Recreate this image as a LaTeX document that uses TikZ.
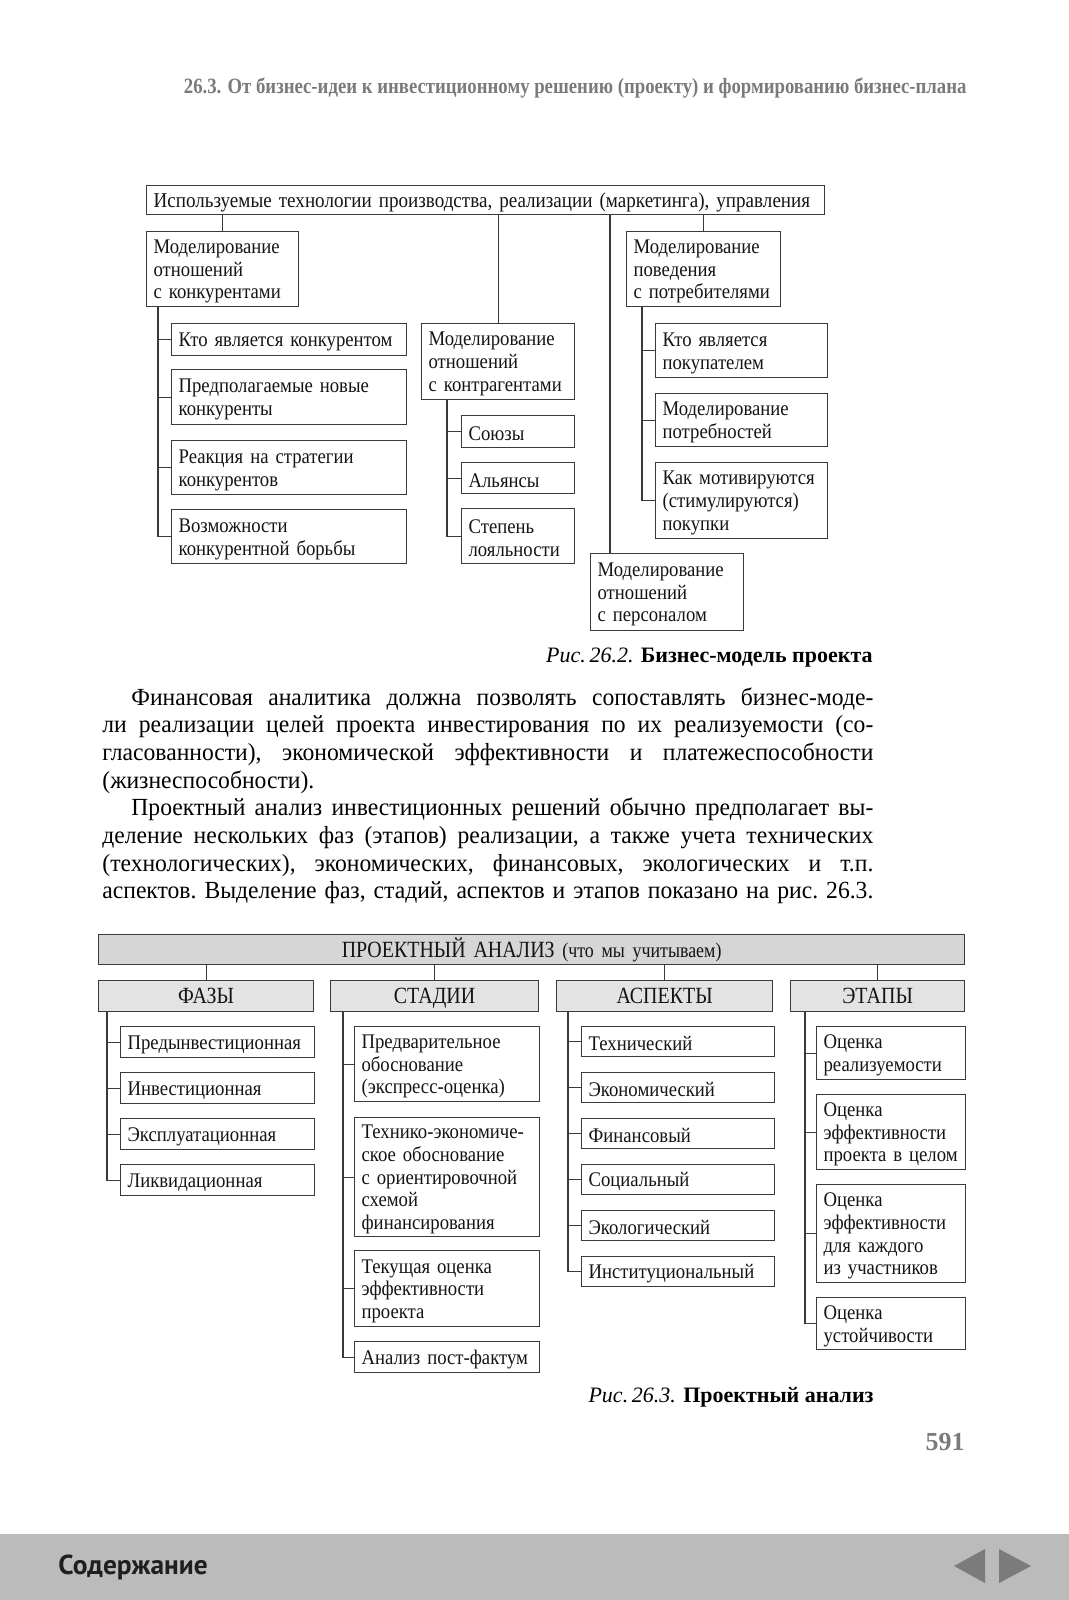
\documentclass[tikz,border=0pt]{standalone}
\usepackage{fontspec}
\usepackage{xcolor}
\usepackage{tikz}
\setmainfont{Liberation Serif}
\newfontfamily\condf{Liberation Serif}[FakeStretch=0.86]
\newfontfamily\boxf{Liberation Serif}[FakeStretch=0.9]
\newfontfamily\bodyf{Liberation Serif}[FakeStretch=0.96]
\newfontfamily\navf{PT Sans}
\definecolor{linegray}{HTML}{3A3A3A}
\definecolor{headgray}{HTML}{7A7A7A}
\definecolor{fillhi}{HTML}{D6D6D6}
\definecolor{fillhd}{HTML}{E3E3E3}
\definecolor{barbg}{HTML}{BBBBBB}
\definecolor{navtri}{HTML}{7B7B7B}
\tikzset{
  box/.style={draw=linegray, line width=0.6pt, anchor=north west, align=left,
    inner xsep=3.5pt, inner ysep=1pt, text=black!92,
    execute at begin node={\rule{0pt}{9.3pt}},
    font=\boxf\fontsize{10.4}{11.35}\selectfont},
  headbox/.style={draw=linegray, line width=0.6pt, anchor=north west,
    align=center, inner xsep=3.5pt, inner ysep=1pt, text=black!92,
    text height=9.7pt, text depth=2pt, fill=fillhd,
    font=\condf\fontsize{11.6}{13}\selectfont},
  link/.style={draw=linegray, line width=0.6pt},
}
\newcommand{\fullline}[1]{\hbox to 385.5pt{#1}}
\newcommand{\lastline}[1]{\hbox to 385.5pt{#1\hfil}}

\begin{document}
\begin{tikzpicture}[x=0.5pt, y=-0.5pt]
  \useasboundingbox (0,0) rectangle (1069,1600);

  % running head
  \node[anchor=base east, inner sep=0pt, text=headgray,
    font=\condf\bfseries\fontsize{10.9}{13}\selectfont] (runhead) at (967,94)
    {26.3. От бизнес-идеи к инвестиционному решению (проекту) и формированию бизнес-плана};

  % fig. 26.2
  \node[box, text width=332pt, minimum height=14.5pt,
    font=\boxf\fontsize{10.6}{11.35}\selectfont] (tech) at (146,185)
    {Используемые технологии производства, реализации (маркетинга), управления};
  \node[box, text width=69pt, minimum height=37.5pt] (comp) at (146,231)
    {Моделирование\\отношений\\с конкурентами};
  \node[box, text width=110.5pt, minimum height=16pt] (comp1) at (171,323) {Кто является конкурентом};
  \node[box, text width=110.5pt, minimum height=27.5pt] (comp2) at (171,369) {Предполагаемые новые\\конкуренты};
  \node[box, text width=110.5pt, minimum height=27pt] (comp3) at (171,440) {Реакция на стратегии\\конкурентов};
  \node[box, text width=110.5pt, minimum height=27pt] (comp4) at (171,509) {Возможности\\конкурентной борьбы};
  \node[box, text width=69.5pt, minimum height=38pt] (contr) at (421,323)
    {Моделирование\\отношений\\с контрагентами};
  \node[box, text width=49.5pt, minimum height=16pt] (contr1) at (461,415) {Союзы};
  \node[box, text width=49.5pt, minimum height=15.5pt] (contr2) at (461,462) {Альянсы};
  \node[box, text width=49.5pt, minimum height=27.5pt] (contr3) at (461,508) {Степень\\лояльности};
  \node[box, text width=70pt, minimum height=37.5pt] (cons) at (626,231)
    {Моделирование\\поведения\\с потребителями};
  \node[box, text width=79pt, minimum height=27pt] (cons1) at (655,323) {Кто является\\покупателем};
  \node[box, text width=79pt, minimum height=26.5pt] (cons2) at (655,393) {Моделирование\\потребностей};
  \node[box, text width=79pt, minimum height=38pt] (cons3) at (655,462) {Как мотивируются\\(стимулируются)\\покупки};
  \node[box, text width=69.5pt, minimum height=38.5pt] (staff) at (590,553)
    {Моделирование\\отношений\\с персоналом};

  \draw[link] (comp.north) -- (comp.north |- tech.south);
  \draw[link] (contr.north) -- (contr.north |- tech.south);
  \draw[link] (cons.north) -- (cons.north |- tech.south);
  \coordinate (staffin) at ([xshift=10pt]staff.north west);
  \draw[link] (staffin) -- (staffin |- tech.south);
  \foreach \c in {comp1,comp2,comp3,comp4}
    \draw[link] ([xshift=6pt]comp.south west) |- (\c.west);
  \foreach \c in {contr1,contr2,contr3}
    \draw[link] ([xshift=13pt]contr.south west) |- (\c.west);
  \foreach \c in {cons1,cons2,cons3}
    \draw[link] ([xshift=8pt]cons.south west) |- (\c.west);

  \node[anchor=base east, inner sep=0pt, font=\fontsize{11}{13}\selectfont] (cap1) at (873,662)
    {\textit{Рис.\,26.2.} \textbf{Бизнес-модель проекта}};

  % body text
  \node[anchor=base west, inner sep=0pt, text width=385.5pt,
    font=\bodyf\fontsize{12.3}{13.85}\selectfont] (body) at (102,705) {%
    \frenchspacing\spaceskip=3pt plus 6pt minus 0.9pt\relax
    \fullline{\hspace*{14.5pt}Финансовая аналитика должна позволять сопоставлять бизнес-моде-}
    \fullline{ли реализации целей проекта инвестирования по их реализуемости (со-}
    \fullline{гласованности), экономической эффективности и платежеспособности}
    \lastline{(жизнеспособности).}
    \fullline{\hspace*{14.5pt}Проектный анализ инвестиционных решений обычно предполагает вы-}
    \fullline{деление нескольких фаз (этапов) реализации, а также учета технических}
    \fullline{(технологических), экономических, финансовых, экологических и т.п.}
    \fullline{аспектов. Выделение фаз, стадий, аспектов и этапов показано на рис. 26.3.}};

  % fig. 26.3
  \node[headbox, fill=fillhi, text width=426pt, minimum height=15pt] (pa) at (98,934)
    {ПРОЕКТНЫЙ АНАЛИЗ {\fontsize{10.4}{12}\selectfont(что мы учитываем)}};
  \node[headbox, text width=100.5pt, minimum height=15.5pt] (phase) at (98,980) {ФАЗЫ};
  \node[headbox, text width=97pt, minimum height=15.5pt] (stage) at (330,980) {СТАДИИ};
  \node[headbox, text width=101pt, minimum height=15.5pt] (aspect) at (556,980) {АСПЕКТЫ};
  \node[headbox, text width=80pt, minimum height=15.5pt] (step) at (790,980) {ЭТАПЫ};
  \foreach \h in {phase,stage,aspect,step}
    \draw[link] (\h.north) -- (\h.north |- pa.south);

  \node[box, text width=90pt, minimum height=15.5pt] (phase1) at (120,1026) {Предынвестиционная};
  \node[box, text width=90pt, minimum height=15.5pt] (phase2) at (120,1072) {Инвестиционная};
  \node[box, text width=90pt, minimum height=15.5pt] (phase3) at (120,1118) {Эксплуатационная};
  \node[box, text width=90pt, minimum height=15.5pt] (phase4) at (120,1164) {Ликвидационная};

  \node[box, text width=85.5pt, minimum height=37.5pt] (stage1) at (354,1026)
    {Предварительное\\обоснование\\(экспресс-оценка)};
  \node[box, text width=85.5pt, minimum height=59.5pt] (stage2) at (354,1117)
    {Технико-экономиче-\\ское обоснование\\с ориентировочной\\схемой\\финансирования};
  \node[box, text width=85.5pt, minimum height=38pt] (stage3) at (354,1250)
    {Текущая оценка\\эффективности\\проекта};
  \node[box, text width=85.5pt, minimum height=15.5pt] (stage4) at (354,1341) {Анализ пост-фактум};

  \node[box, text width=89.5pt, minimum height=15pt] (asp1) at (581,1026) {Технический};
  \node[box, text width=89.5pt, minimum height=15pt] (asp2) at (581,1072) {Экономический};
  \node[box, text width=89.5pt, minimum height=15pt] (asp3) at (581,1118) {Финансовый};
  \node[box, text width=89.5pt, minimum height=15pt] (asp4) at (581,1164) {Социальный};
  \node[box, text width=89.5pt, minimum height=15pt] (asp5) at (581,1210) {Экологический};
  \node[box, text width=89.5pt, minimum height=15pt] (asp6) at (581,1256) {Институциональный};

  \node[box, text width=67.5pt, minimum height=26.5pt] (step1) at (816,1026) {Оценка\\реализуемости};
  \node[box, text width=67.5pt, minimum height=37.5pt] (step2) at (816,1094)
    {Оценка\\эффективности\\проекта в целом};
  \node[box, text width=67.5pt, minimum height=49pt] (step3) at (816,1184)
    {Оценка\\эффективности\\для каждого\\из участников};
  \node[box, text width=67.5pt, minimum height=26pt] (step4) at (816,1297) {Оценка\\устойчивости};

  \foreach \c in {phase1,phase2,phase3,phase4}
    \draw[link] ([xshift=4.5pt]phase.south west) |- (\c.west);
  \foreach \c in {stage1,stage2,stage3,stage4}
    \draw[link] ([xshift=6.5pt]stage.south west) |- (\c.west);
  \foreach \c in {asp1,asp2,asp3,asp4,asp5,asp6}
    \draw[link] ([xshift=6pt]aspect.south west) |- (\c.west);
  \foreach \c in {step1,step2,step3,step4}
    \draw[link] ([xshift=7.5pt]step.south west) |- (\c.west);

  \node[anchor=base east, inner sep=0pt, font=\fontsize{11}{13}\selectfont] (cap2) at (874,1402)
    {\textit{Рис.\,26.3.} \textbf{Проектный анализ}};

  \node[anchor=base east, inner sep=0pt, text=headgray,
    font=\bfseries\fontsize{13}{15}\selectfont] (pageno) at (965,1450) {591};

  % navigation bar
  \fill[barbg] (0,1534) rectangle (1069,1600);
  \node[anchor=base west, inner sep=0pt, text=black!88,
    font=\navf\bfseries\fontsize{13.7}{15}\selectfont] (toc) at (58,1574) {Содержание};
  \fill[navtri] (954,1566) -- (985,1549) -- (985,1583) -- cycle;
  \fill[navtri] (999,1549) -- (1031,1566) -- (999,1583) -- cycle;
\end{tikzpicture}
\end{document}
